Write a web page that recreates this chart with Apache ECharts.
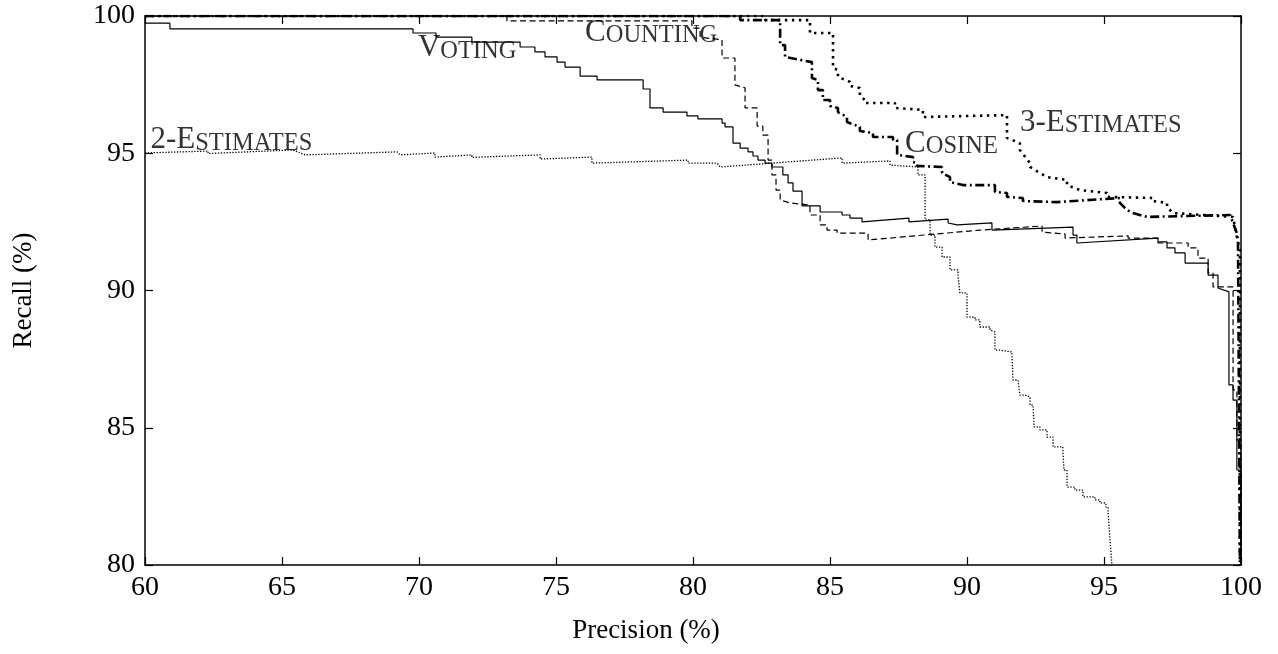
<!DOCTYPE html>
<html>
<head>
<meta charset="utf-8">
<style>
html,body{margin:0;padding:0;background:#fff;}
#chart{width:1278px;height:654px;}
</style>
<script src="https://cdn.jsdelivr.net/npm/echarts@6/dist/echarts.min.js"></script>
</head>
<body>
<div id="chart"></div>
<script>
// Axis ticks
const xTicks = [60, 65, 70, 75, 80, 85, 90, 95, 100];
const yTicks = [80, 85, 90, 95, 100];

// Series: [precision, recall]
const voting = [[60,99.74],[60.91,99.74],[60.91,99.53],[69.78,99.53],[69.78,99.38],[70.62,99.38],[70.62,99.23],[71.93,99.23],[71.93,99.05],[73.69,99.05],[73.69,98.87],[74.23,98.87],[74.23,98.69],[74.60,98.69],[74.60,98.51],[75.04,98.51],[75.04,98.32],[75.33,98.32],[75.33,98.14],[75.88,98.14],[75.88,97.81],[76.50,97.81],[76.50,97.67],[78.18,97.67],[78.18,97.34],[78.43,97.34],[78.43,96.65],[78.91,96.65],[78.91,96.50],[79.78,96.50],[79.78,96.36],[80.18,96.36],[80.18,96.25],[81.06,96.25],[81.06,96.10],[81.17,96.10],[81.17,95.96],[81.46,95.96],[81.46,95.37],[81.72,95.37],[81.72,95.19],[82.01,95.19],[82.01,95.05],[82.19,95.05],[82.19,94.90],[82.37,94.90],[82.37,94.75],[82.63,94.75],[82.63,94.64],[82.88,94.64],[82.88,94.50],[83.28,94.50],[83.28,94.21],[83.47,94.21],[83.47,93.92],[83.65,93.92],[83.65,93.62],[83.98,93.62],[83.98,93.08],[84.64,93.08],[84.64,92.86],[85.44,92.86],[85.44,92.75],[85.73,92.75],[85.73,92.64],[86.17,92.64],[86.17,92.50],[87.88,92.64],[87.88,92.50],[89.31,92.60],[89.31,92.46],[89.64,92.39],[90.91,92.46],[90.91,92.20],[93.87,92.31],[93.87,92.02],[94.01,92.02],[94.01,91.73],[96.97,91.91],[96.97,91.77],[97.30,91.77],[97.30,91.55],[97.59,91.55],[97.59,91.37],[97.96,91.37],[97.96,91.00],[98.80,91.00],[98.80,90.56],[99.16,90.56],[99.16,90.09],[99.56,89.95],[99.56,86.56],[99.71,86.56],[99.71,86.01],[99.85,86.01],[99.85,83.46],[100,83.46],[100,80]];

const counting = [[60,100],[73.21,100],[73.21,99.82],[79.96,99.82],[79.96,99.56],[80.26,99.56],[80.26,99.23],[81.06,99.13],[81.06,98.47],[81.53,98.47],[81.53,97.49],[81.90,97.38],[81.90,96.65],[82.34,96.65],[82.34,95.99],[82.55,95.99],[82.55,95.66],[82.74,95.66],[82.74,94.75],[82.88,94.75],[82.88,94.21],[83.03,94.21],[83.03,93.66],[83.18,93.66],[83.18,93.30],[83.54,93.19],[84.27,93.11],[84.27,92.75],[84.64,92.75],[84.64,92.39],[84.89,92.39],[84.89,92.20],[85.26,92.20],[85.26,92.09],[86.39,92.09],[86.39,91.84],[90.47,92.20],[92.74,92.35],[92.74,92.13],[93.58,92.06],[93.58,91.91],[95.88,91.99],[95.88,91.91],[96.97,91.91],[96.97,91.73],[98.07,91.73],[98.07,91.55],[98.43,91.55],[98.43,91.18],[98.80,91.18],[98.80,90.64],[98.98,90.64],[98.98,90.13],[99.71,90.13],[99.71,86.38],[99.85,86.38],[99.85,84.55],[100,84.55],[100,80]];

const twoEstimates = [[60,95.01],[62.30,95.08],[62.30,94.99],[65.40,95.12],[65.84,94.94],[69.20,95.05],[69.31,94.94],[70.58,95.01],[70.58,94.86],[71.93,94.94],[71.93,94.85],[74.42,94.94],[74.42,94.79],[76.31,94.86],[76.31,94.64],[79.82,94.75],[79.82,94.64],[80.88,94.64],[80.99,94.50],[85.44,94.83],[85.44,94.64],[87.19,94.72],[87.19,94.57],[88.21,94.50],[88.21,94.21],[88.47,94.21],[88.47,92.57],[88.65,92.57],[88.65,92.02],[88.83,92.02],[88.83,91.58],[89.09,91.58],[89.09,91.22],[89.38,91.22],[89.38,90.75],[89.67,90.75],[89.67,90.56],[89.74,90.56],[89.74,89.91],[90.00,89.91],[90.00,89.03],[90.29,89.03],[90.29,88.93],[90.47,88.93],[90.47,88.67],[90.84,88.67],[90.84,88.56],[90.91,88.56],[90.91,88.49],[91.02,88.49],[91.02,87.83],[91.20,87.83],[91.20,87.76],[91.64,87.76],[91.64,87.65],[91.68,87.65],[91.68,86.74],[91.86,86.74],[91.86,86.67],[91.93,86.67],[91.93,86.19],[92.12,86.19],[92.12,86.12],[92.30,86.12],[92.30,85.83],[92.41,85.83],[92.41,85.76],[92.45,85.76],[92.45,85.03],[92.66,85.03],[92.66,84.92],[92.92,84.92],[92.92,84.66],[93.14,84.66],[93.14,84.30],[93.50,84.30],[93.50,84.12],[93.54,84.12],[93.54,83.46],[93.65,83.46],[93.65,82.84],[93.94,82.84],[93.94,82.73],[94.23,82.73],[94.23,82.48],[94.67,82.48],[94.67,82.37],[94.85,82.37],[94.85,82.26],[95.07,82.26],[95.07,82.11],[95.15,82.11],[95.15,81.89],[95.22,81.89],[95.22,80.91],[95.29,80.91],[95.29,80]];

const cosine = [[60,100],[81.72,100],[81.72,99.85],[83.18,99.85],[83.18,98.94],[83.36,98.94],[83.36,98.51],[84.34,98.32],[84.34,97.74],[84.56,97.67],[84.56,97.30],[84.74,97.30],[84.74,96.94],[85.00,96.94],[85.00,96.72],[85.29,96.65],[85.29,96.50],[85.62,96.32],[85.62,96.14],[86.09,95.96],[86.09,95.81],[86.57,95.74],[86.57,95.59],[87.30,95.59],[87.30,95.48],[87.45,95.48],[87.45,94.94],[88.03,94.86],[88.03,94.68],[88.18,94.64],[88.18,94.54],[89.09,94.50],[89.09,94.28],[89.38,94.13],[89.38,93.95],[89.85,93.84],[89.85,93.77],[91.02,93.84],[91.02,93.59],[91.46,93.55],[91.46,93.41],[92.04,93.37],[92.04,93.26],[93.28,93.22],[95.58,93.37],[95.58,93.19],[95.84,92.93],[96.06,92.82],[96.57,92.68],[99.60,92.75],[99.60,92.68],[99.85,92.09],[99.89,91.84],[99.96,91.84],[99.96,80]];

const threeEstimates = [[60,100],[82.63,100],[82.63,99.85],[84.27,99.85],[84.27,99.38],[85.11,99.38],[85.11,98.11],[85.29,98.03],[85.29,97.78],[85.73,97.60],[85.73,97.45],[86.09,97.38],[86.09,97.09],[86.28,96.94],[86.28,96.83],[87.37,96.83],[87.37,96.65],[88.39,96.58],[88.39,96.32],[91.46,96.39],[91.46,95.56],[91.93,95.37],[91.93,95.12],[92.30,94.64],[92.30,94.50],[92.92,94.13],[93.65,94.03],[93.65,93.84],[94.12,93.66],[95.11,93.55],[95.11,93.41],[96.79,93.37],[96.79,93.26],[97.30,93.19],[97.30,93.04],[97.52,92.82],[99.71,92.68],[99.85,91.95],[99.96,91.48],[99.96,80]];

// Curve labels (left edge x, vertical centre y, in data units)
const labelNames = ['2-Estimates', 'Voting', 'Counting', 'Cosine', '3-Estimates'];
const labelX = [60.2, 69.96, 76.06, 87.74, 91.93];
const labelY = [95.48, 98.83, 99.38, 95.34, 96.1];

const FONT = 'Liberation Serif';
const TICK_FS = 28;
const NAME_FS = 27;
const BIG_FS = 31;
const SMALL_FS = 24.5;

function smallCaps(name) {
  const m = name.match(/^([^A-Za-z]*[A-Za-z])(.*)$/);
  return '{a|' + m[1] + '}{b|' + m[2].toUpperCase() + '}';
}

const chart = echarts.init(document.getElementById('chart'), null, {renderer: 'canvas'});

function axisCommon(showLabel) {
  return {
    type: 'value',
    axisLine: {show: true, onZero: false, lineStyle: {color: '#000', width: 1.5}},
    axisTick: {show: true, inside: true, length: 8, lineStyle: {color: '#000', width: 1.2}},
    axisLabel: {show: showLabel, color: '#000', fontFamily: FONT, fontSize: TICK_FS},
    splitLine: {show: false}
  };
}

const xMin = xTicks[0], xMax = xTicks[xTicks.length - 1], xInt = xTicks[1] - xTicks[0];
const yMin = yTicks[0], yMax = yTicks[yTicks.length - 1], yInt = yTicks[1] - yTicks[0];

const lineBase = {type: 'line', showSymbol: false, symbol: 'none', clip: true, silent: true, xAxisIndex: 0, yAxisIndex: 0};

const option = {
  animation: false,
  backgroundColor: '#fff',
  grid: {left: 145, right: 37, top: 16, bottom: 89, containLabel: false},
  xAxis: [
    Object.assign(axisCommon(true), {position: 'bottom', min: xMin, max: xMax, interval: xInt,
      axisLabel: {show: true, color: '#000', fontFamily: FONT, fontSize: TICK_FS, margin: 9},
      name: 'Precision (%)', nameLocation: 'middle', nameGap: 52,
      nameTextStyle: {color: '#000', fontFamily: FONT, fontSize: NAME_FS, padding: [0, 94, 0, 0]}}),
    Object.assign(axisCommon(false), {position: 'top', min: xMin, max: xMax, interval: xInt})
  ],
  yAxis: [
    Object.assign(axisCommon(true), {position: 'left', min: yMin, max: yMax, interval: yInt,
      axisLabel: {show: true, color: '#000', fontFamily: FONT, fontSize: TICK_FS, margin: 10},
      name: 'Recall (%)', nameLocation: 'middle', nameGap: 108,
      nameTextStyle: {color: '#000', fontFamily: FONT, fontSize: NAME_FS}}),
    Object.assign(axisCommon(false), {position: 'right', min: yMin, max: yMax, interval: yInt})
  ],
  series: [
    Object.assign({}, lineBase, {name: '3-Estimates', data: threeEstimates,
      lineStyle: {color: '#000', width: 2.6, type: [2.4, 4.6], cap: 'butt'}}),
    Object.assign({}, lineBase, {name: 'Cosine', data: cosine,
      lineStyle: {color: '#000', width: 2.6, type: [9, 3.5, 2, 3.5], cap: 'butt'}}),
    Object.assign({}, lineBase, {name: '2-Estimates', data: twoEstimates,
      lineStyle: {color: '#000', width: 1.3, type: [1.3, 1.6], cap: 'butt'}}),
    Object.assign({}, lineBase, {name: 'Counting', data: counting,
      lineStyle: {color: '#000', width: 1.2, type: [6, 3.5], cap: 'butt'}}),
    Object.assign({}, lineBase, {name: 'Voting', data: voting,
      lineStyle: {color: '#000', width: 1.2, type: 'solid'}}),
    {
      type: 'scatter', name: 'labels', silent: true, symbolSize: 0, xAxisIndex: 0, yAxisIndex: 0,
      data: labelNames.map((n, i) => [labelX[i], labelY[i], n]),
      label: {
        show: true, position: 'right', distance: 0,
        formatter: p => smallCaps(p.data[2]),
        rich: {
          a: {fontFamily: FONT, fontSize: BIG_FS, color: '#000', lineHeight: BIG_FS, verticalAlign: 'bottom'},
          b: {fontFamily: FONT, fontSize: SMALL_FS, color: '#000', lineHeight: SMALL_FS, verticalAlign: 'bottom'}
        }
      }
    }
  ]
};
chart.setOption(option);
</script>
</body>
</html>
